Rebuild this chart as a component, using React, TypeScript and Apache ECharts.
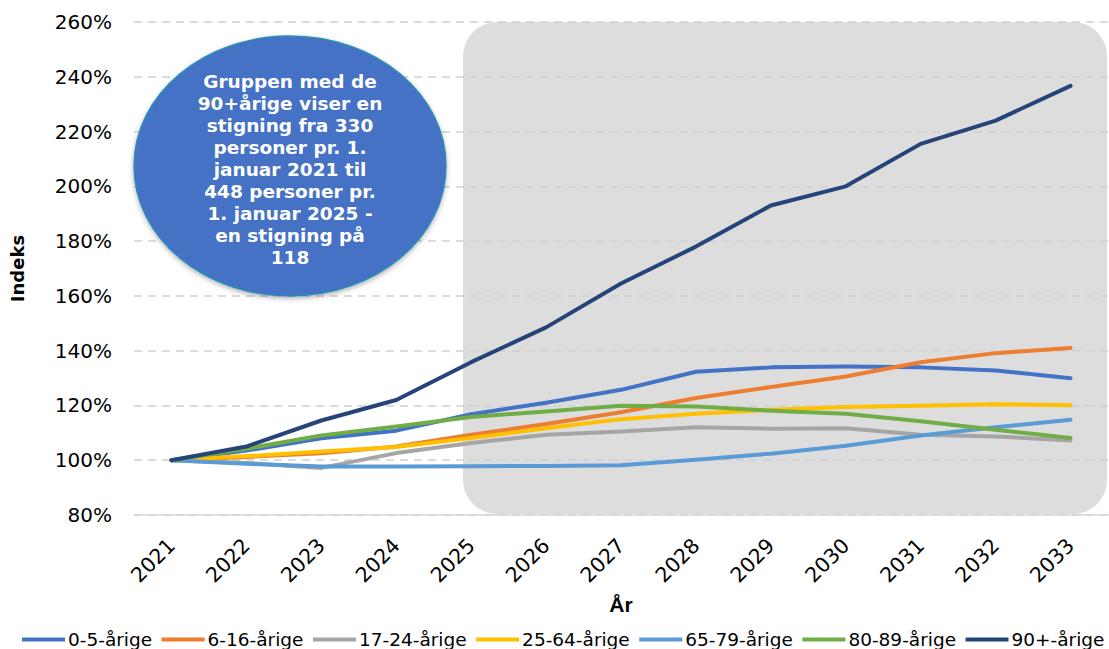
import React, { useEffect, useRef } from "react";
import * as echarts from "echarts";

const years = ["2021", "2022", "2023", "2024", "2025", "2026", "2027", "2028", "2029", "2030", "2031", "2032", "2033"];

const age0to5 = [100, 103.5, 108, 110.8, 116.8, 121, 125.7, 132.3, 133.9, 134.2, 133.9, 132.8, 129.9];
const age6to16 = [100, 101.2, 102.5, 105, 109.3, 113.2, 117.5, 122.7, 126.7, 130.6, 135.8, 139.1, 141];
const age17to24 = [100, 99, 97.2, 102.6, 106.3, 109.3, 110.5, 112, 111.5, 111.7, 109.3, 108.7, 107.2];
const age25to64 = [100, 101.5, 103.2, 104.8, 108.1, 111.7, 115, 117, 118.4, 119.4, 119.9, 120.4, 120.1];
const age65to79 = [100, 98.7, 97.7, 97.7, 97.8, 97.9, 98.2, 100.2, 102.4, 105.3, 109, 112, 114.8];
const age80to89 = [100, 104.2, 109, 112.3, 115.8, 117.8, 119.9, 119.6, 118.1, 117, 114.2, 111.1, 108.1];
const age90plus = [100, 105, 114.5, 122, 135.8, 148.5, 164.5, 178, 193, 200, 215.5, 224, 236.7];

const seriesNames = ["0-5-årige", "6-16-årige", "17-24-årige", "25-64-årige", "65-79-årige", "80-89-årige", "90+-årige"];
const seriesData = [age0to5, age6to16, age17to24, age25to64, age65to79, age80to89, age90plus];
const seriesColors = ["#4472C4", "#ED7D31", "#A5A5A5", "#FFC000", "#5B9BD5", "#70AD47", "#264478"];

const calloutText = [
  "Gruppen med de",
  "90+årige viser en",
  "stigning fra 330",
  "personer pr. 1.",
  "januar 2021 til",
  "448 personer pr.",
  "1. januar 2025 -",
  "en stigning på",
  "118",
].join("\n");

const font = "'DejaVu Sans', Verdana, sans-serif";

export default function App() {
  const ref = useRef<HTMLDivElement>(null);
  useEffect(() => {
    if (!ref.current) return;
    const chart = echarts.init(ref.current, null, { renderer: "svg" });
    chart.setOption({
      animation: false,
      backgroundColor: "#ffffff",
      grid: { left: 132, top: 22, width: 976, height: 493, containLabel: false },
      legend: {
        top: 630,
        left: 22,
        itemWidth: 43,
        itemHeight: 14,
        itemGap: 9.5,
        padding: 0,
        icon: "path://M0,5 L43,5 L43,9 L0,9 Z",
        textStyle: { fontFamily: font, fontSize: 18.5, color: "#000", padding: [0, 0, 0, -2] },
        data: seriesNames,
      },
      xAxis: {
        type: "category",
        data: years,
        boundaryGap: true,
        name: "År",
        nameLocation: "middle",
        nameGap: 79,
        nameTextStyle: { fontFamily: "'Liberation Sans', Arial, sans-serif", fontWeight: "bold", fontSize: 21, color: "#000" },
        axisLine: { show: true, lineStyle: { color: "#D9D9D9", width: 1.5 } },
        axisTick: { show: false },
        axisLabel: { rotate: 45, fontFamily: font, fontSize: 20.5, color: "#000", margin: 27 },
      },
      yAxis: {
        type: "value",
        min: 80,
        max: 260,
        interval: 20,
        name: "Indeks",
        nameLocation: "middle",
        nameGap: 108,
        nameTextStyle: { fontFamily: font, fontWeight: "bold", fontSize: 18, color: "#000" },
        axisLine: { show: false },
        axisTick: { show: false },
        axisLabel: { formatter: "{value}%", fontFamily: font, fontSize: 20, color: "#000", margin: 22 },
        splitLine: { show: true, lineStyle: { color: "#D0D0D0", type: [8, 6], width: 1.5 } },
      },
      graphic: [
        {
          type: "rect",
          z: -10,
          shape: { x: 463, y: 22, width: 644, height: 492, r: 34 },
          style: { fill: "#DDDDDD" },
          silent: true,
        },
        {
          type: "ellipse",
          z: 100,
          shape: { cx: 290, cy: 166, rx: 156, ry: 130 },
          style: {
            fill: "#4472C4",
            stroke: "#2F8DB8",
            lineWidth: 1.5,
            shadowBlur: 5,
            shadowOffsetY: 2,
            shadowColor: "rgba(0,0,0,0.3)",
          },
          silent: true,
        },
        {
          type: "text",
          z: 101,
          x: 290,
          y: 169,
          style: {
            text: calloutText,
            fill: "#ffffff",
            font: "bold 18.5px 'DejaVu Sans', Verdana, sans-serif",
            align: "center",
            verticalAlign: "middle",
            lineHeight: 22,
          },
          silent: true,
        },
      ],
      series: seriesNames.map((name, i) => ({
        name,
        type: "line",
        data: seriesData[i],
        symbol: "none",
        smooth: false,
        z: 3 + (i === 6 ? 1 : 0),
        lineStyle: { color: seriesColors[i], width: 4, cap: "round", join: "round" },
        itemStyle: { color: seriesColors[i] },
      })),
    });
    return () => chart.dispose();
  }, []);
  return <div ref={ref} style={{ position: "absolute", left: 0, top: 0, width: 1109, height: 649 }} />;
}
